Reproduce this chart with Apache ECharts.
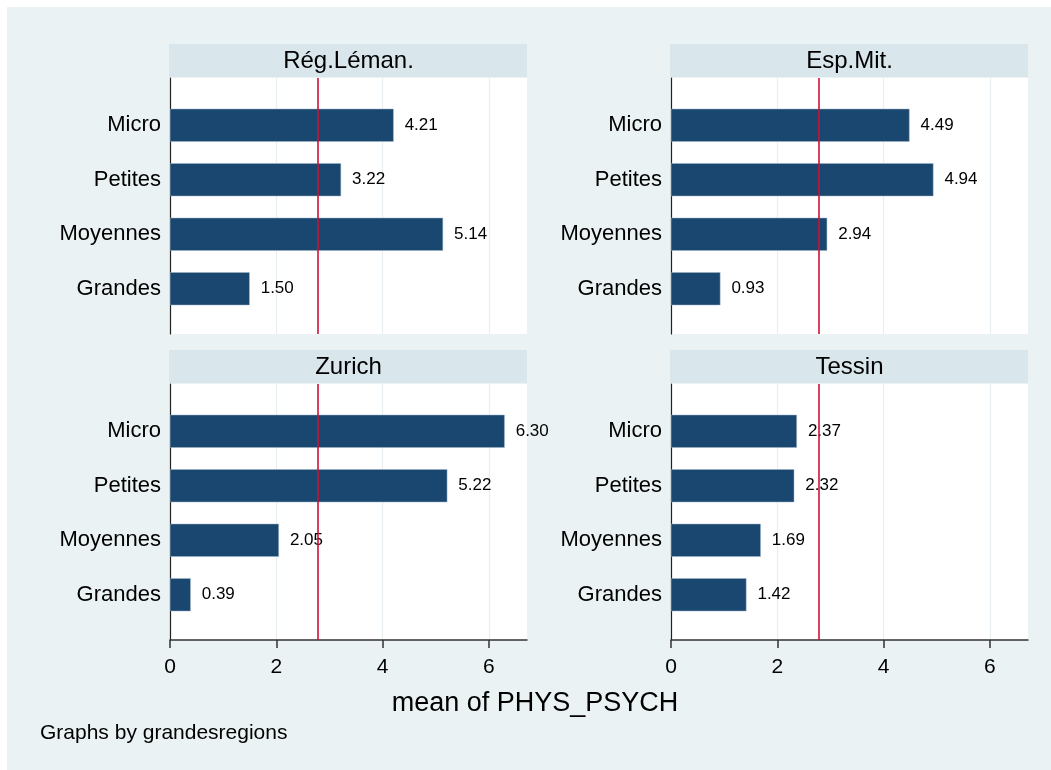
<!DOCTYPE html>
<html>
<head>
<meta charset="utf-8">
<script src="https://cdn.jsdelivr.net/npm/echarts@6/dist/echarts.min.js"></script>
<style>
    html, body { margin: 0; padding: 0; background: #fff; }
    #chart { position: absolute; left: 7px; top: 7px; width: 1044px; height: 763px; background: #eaf2f3; }
</style>
</head>
<body>
<div id="chart"></div>
<script>
// data
const regionNames = ['Rég.Léman.', 'Esp.Mit.', 'Zurich', 'Tessin']
const sizeClasses = ['Micro', 'Petites', 'Moyennes', 'Grandes']
const lemanValues = [4.21, 3.22, 5.14, 1.50]
const espMitValues = [4.49, 4.94, 2.94, 0.93]
const zurichValues = [6.30, 5.22, 2.05, 0.39]
const tessinValues = [2.37, 2.32, 1.69, 1.42]
const overallMean = 2.78
const xTickValues = [0, 2, 4, 6]
const xMax = 6.72

const regionValues = [lemanValues, espMitValues, zurichValues, tessinValues]

// panel layout (container px)
const panels = [
    {left: 163, top: 71, bottomRow: false},
    {left: 664, top: 71, bottomRow: false},
    {left: 163, top: 377, bottomRow: true},
    {left: 664, top: 377, bottomRow: true}
]
const plotW = 357
const plotH = 256
const innerPad = 19
const FONT = '"Liberation Sans", Arial, sans-serif'

const chart = echarts.init(document.getElementById('chart'), null, {renderer: 'canvas'})

const grid = [], xAxis = [], yAxis = [], series = [], graphic = []

panels.forEach((p, i) => {
    // background grid with gridlines + axis lines
    grid.push({left: p.left, top: p.top, width: plotW, height: plotH, show: true, backgroundColor: '#fff', borderWidth: 0})
    // inner grid holding the bars
    grid.push({left: p.left, top: p.top + innerPad + 1, width: plotW, height: plotH - 2 * innerPad, show: false})

    xAxis.push({
        type: 'value', gridIndex: 2 * i, min: 0, max: xMax, interval: 2,
        axisLine: {show: p.bottomRow, onZero: false, lineStyle: {color: '#333', width: 1.5}},
        axisTick: {show: p.bottomRow, length: 8, customValues: xTickValues, lineStyle: {color: '#333', width: 1.5}},
        axisLabel: {show: p.bottomRow, customValues: xTickValues, margin: 17, fontSize: 21, color: '#000', fontFamily: FONT},
        splitLine: {show: true, lineStyle: {color: '#e6eef1', width: 1.2}}
    })
    xAxis.push({
        type: 'value', gridIndex: 2 * i + 1, min: 0, max: xMax, show: false
    })

    yAxis.push({
        type: 'value', gridIndex: 2 * i, min: 0, max: 1,
        axisLine: {show: true, lineStyle: {color: '#222', width: 1.2}},
        axisTick: {show: false}, axisLabel: {show: false}, splitLine: {show: false}
    })
    yAxis.push({
        type: 'category', gridIndex: 2 * i + 1, data: sizeClasses, inverse: true,
        axisLine: {show: false}, axisTick: {show: false}, splitLine: {show: false},
        axisLabel: {margin: 9, fontSize: 22, color: '#000', fontFamily: FONT}
    })

    // mean reference line
    series.push({
        type: 'line', xAxisIndex: 2 * i, yAxisIndex: 2 * i, data: [], z: 1,
        markLine: {
            silent: true, symbol: 'none', label: {show: false},
            lineStyle: {color: '#cc1236', width: 1.6, type: 'solid'},
            data: [{xAxis: overallMean}]
        }
    })

    series.push({
        type: 'bar', xAxisIndex: 2 * i + 1, yAxisIndex: 2 * i + 1, z: 3,
        data: regionValues[i], barWidth: 33,
        itemStyle: {color: '#1a476f', borderColor: '#9fb6c9', borderWidth: 0.5},
        label: {
            show: true, position: 'right', distance: 11,
            fontSize: 17, color: '#000', fontFamily: FONT,
            formatter: d => d.value.toFixed(2)
        }
    })

    // strip header
    graphic.push({
        type: 'rect', left: p.left - 1, top: p.top - 34,
        shape: {width: plotW + 1, height: 33},
        style: {fill: '#d9e6eb'}
    })
    graphic.push({
        type: 'text', x: p.left + plotW / 2, y: p.top - 17,
        style: {text: regionNames[i], fill: '#000', font: '24px ' + FONT, textAlign: 'center', textVerticalAlign: 'middle'}
    })
})

graphic.push({
    type: 'text', x: 528, y: 697,
    style: {text: 'mean of PHYS_PSYCH', font: '27px ' + FONT, fill: '#000', textAlign: 'center', textVerticalAlign: 'middle'}
})
graphic.push({
    type: 'text', x: 33, y: 726,
    style: {text: 'Graphs by grandesregions', font: '21px ' + FONT, fill: '#000', textAlign: 'left', textVerticalAlign: 'middle'}
})

const option = {
    animation: false,
    grid: grid,
    xAxis: xAxis,
    yAxis: yAxis,
    series: series,
    graphic: graphic
}

chart.setOption(option)
</script>
</body>
</html>
